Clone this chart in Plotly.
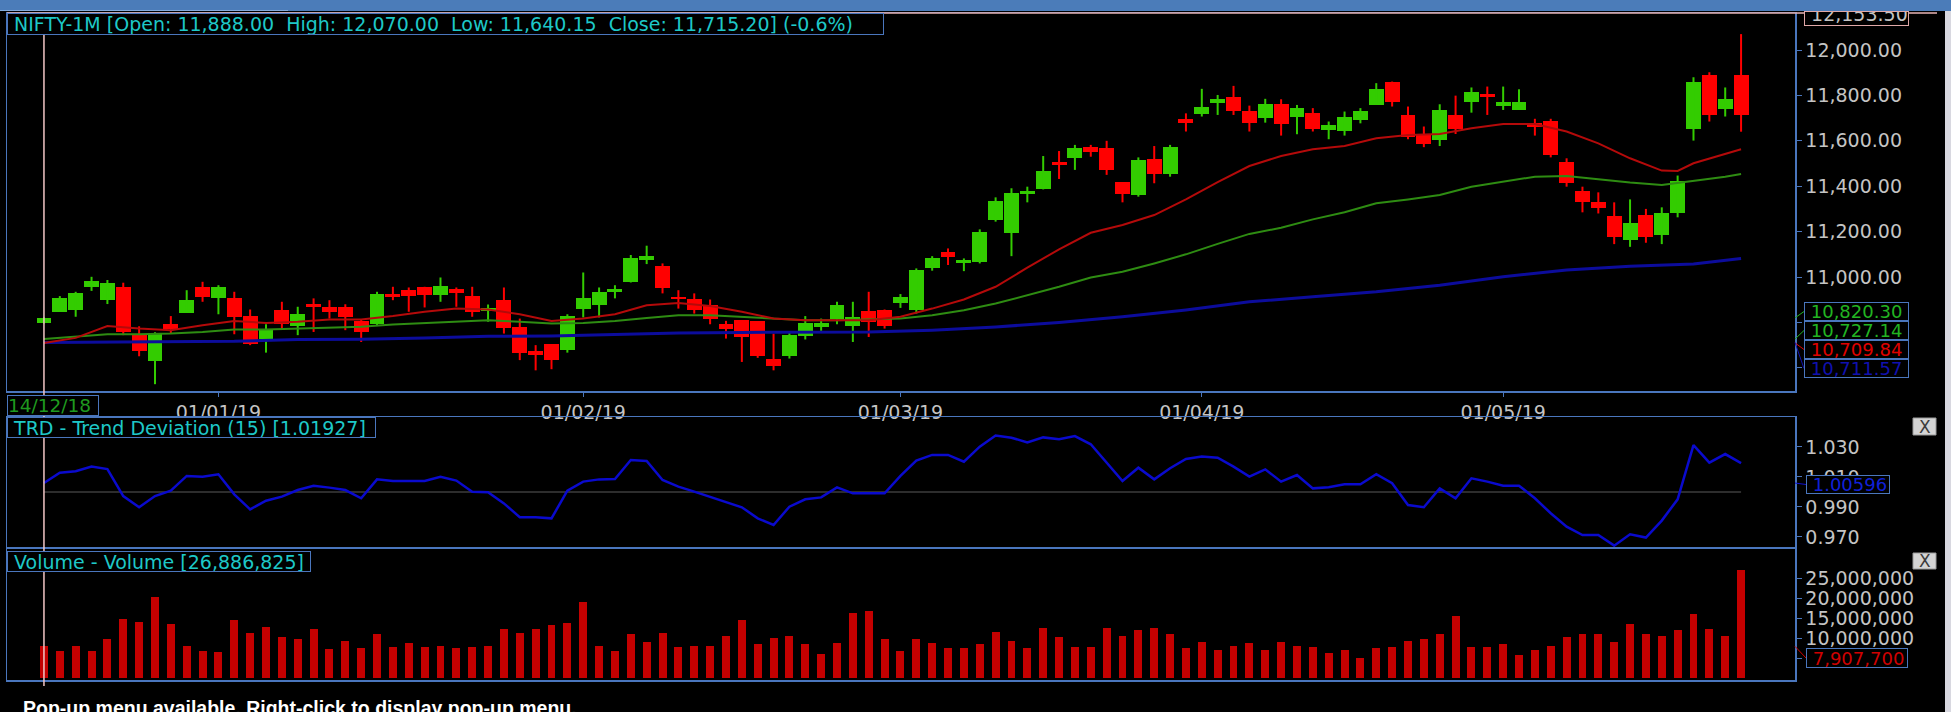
import plotly.graph_objects as go
from datetime import date

W, H = 1951, 712

# ---------------- data ----------------
DEC18 = [14, 17, 18, 19, 20, 21, 24, 26, 27, 28, 31]
JAN19 = [1, 2, 3, 4, 7, 8, 9, 10, 11, 14, 15, 16, 17, 18, 21, 22, 23, 24, 25, 28, 29, 30, 31]
FEB19 = [1, 4, 5, 6, 7, 8, 11, 12, 13, 14, 15, 18, 19, 20, 21, 22, 25, 26, 27, 28]
MAR19 = [1, 5, 6, 7, 8, 11, 12, 13, 14, 15, 18, 19, 20, 22, 25, 26, 27, 28, 29]
APR19 = [1, 2, 3, 4, 5, 8, 9, 10, 11, 12, 15, 16, 18, 22, 23, 24, 25, 26, 30]
MAY19 = [2, 3, 6, 7, 8, 9, 10, 13, 14, 15, 16, 17, 20, 21, 22, 23]
MONTHS = [(2018, 12, DEC18), (2019, 1, JAN19), (2019, 2, FEB19),
          (2019, 3, MAR19), (2019, 4, APR19), (2019, 5, MAY19)]
DATES = [date(y, m, d) for (y, m, days) in MONTHS for d in days]

OPEN = [10797, 10847, 10854, 10954, 10898, 10957, 10748, 10629, 10795, 10842,
        10957, 10906, 10908, 10828, 10729, 10857, 10784, 10883, 10869, 10869,
        10807, 10795, 10925, 10942, 10957, 10920, 10948, 10917, 10851, 10898,
        10778, 10673, 10704, 10678, 10860, 10876, 10932, 10976, 11075, 11048,
        10913, 10905, 10879, 10795, 10810, 10806, 10641, 10651, 10739, 10781,
        10813, 10785, 10851, 10857, 10886, 10854, 11042, 11110, 11064, 11067,
        11251, 11195, 11366, 11386, 11508, 11523, 11572, 11570, 11417, 11361,
        11520, 11454, 11695, 11719, 11766, 11791, 11733, 11702, 11763, 11707,
        11722, 11648, 11645, 11692, 11758, 11861, 11714, 11629, 11604, 11714,
        11773, 11807, 11755, 11736, 11677, 11689, 11508, 11380, 11329, 11269,
        11163, 11273, 11185, 11280, 11651, 11891, 11741, 11888.00]
HIGH = [10822, 10916, 10935, 11001, 10987, 10975, 10783, 10757, 10828, 10942,
        10979, 10964, 10935, 10857, 10792, 10891, 10869, 10906, 10898, 10880,
        10813, 10935, 10957, 10954, 10957, 10998, 10954, 10957, 10879, 10954,
        10817, 10700, 10704, 10836, 11020, 10954, 10964, 11097, 11138, 11060,
        10942, 10928, 10901, 10807, 10810, 10806, 10751, 10758, 10828, 10817,
        10891, 10891, 10935, 10857, 10925, 11038, 11092, 11126, 11082, 11210,
        11351, 11391, 11398, 11533, 11555, 11582, 11582, 11600, 11417, 11527,
        11577, 11582, 11721, 11829, 11802, 11842, 11755, 11785, 11783, 11758,
        11744, 11685, 11729, 11744, 11854, 11861, 11751, 11663, 11761, 11799,
        11835, 11839, 11839, 11827, 11697, 11697, 11523, 11398, 11373, 11329,
        11342, 11300, 11307, 11447, 11880, 11902, 11835, 12070.00]
LOW = [10795, 10847, 10825, 10939, 10881, 10744, 10651, 10528, 10751, 10842,
       10891, 10836, 10748, 10700, 10667, 10769, 10744, 10758, 10817, 10766,
       10714, 10784, 10898, 10847, 10866, 10891, 10869, 10825, 10803, 10751,
       10634, 10589, 10594, 10667, 10822, 10822, 10906, 10976, 11057, 10928,
       10861, 10839, 10792, 10729, 10626, 10644, 10589, 10641, 10725, 10763,
       10792, 10714, 10736, 10773, 10864, 10839, 11028, 11053, 11026, 11060,
       11244, 11092, 11329, 11386, 11432, 11472, 11530, 11450, 11329, 11354,
       11413, 11442, 11641, 11707, 11714, 11714, 11641, 11680, 11623, 11629,
       11641, 11607, 11623, 11677, 11758, 11751, 11607, 11572, 11577, 11630,
       11724, 11714, 11736, 11736, 11623, 11527, 11398, 11285, 11280, 11145,
       11133, 11151, 11145, 11263, 11601, 11685, 11707, 11640.15]
CLOSE = [10820.30, 10906, 10930, 10981, 10975, 10758, 10675, 10751, 10772, 10901,
         10910, 10957, 10822, 10707, 10772, 10792, 10839, 10869, 10847, 10822,
         10758, 10925, 10913, 10916, 10920, 10961, 10928, 10847, 10864, 10776,
         10667, 10656, 10634, 10828, 10909, 10935, 10947, 11086, 11092, 10950,
         10904, 10854, 10813, 10770, 10736, 10651, 10607, 10744, 10798, 10798,
         10879, 10825, 10803, 10785, 10913, 11031, 11082, 11089, 11075, 11200,
         11335, 11369, 11380, 11469, 11494, 11570, 11551, 11472, 11364, 11516,
         11454, 11572, 11677, 11751, 11783, 11732, 11680, 11763, 11675, 11744,
         11651, 11670, 11704, 11733, 11827, 11769, 11619, 11586, 11736, 11651,
         11817, 11792, 11769, 11769, 11660, 11538, 11413, 11332, 11302, 11175,
         11239, 11175, 11283, 11425, 11861, 11714, 11783, 11715.20]

# moving averages (candle index, value)
MA_RED_IDX = [0, 2, 4, 6, 8, 10, 12, 14, 16, 18, 20, 22, 24, 26, 28, 30, 32, 34, 36, 38,
              40, 42, 44, 46, 48, 50, 52, 54, 56, 58, 60, 62, 64, 66, 68, 70, 72, 74, 76, 78,
              80, 82, 84, 86, 88, 90, 92, 94, 96, 98, 100, 102, 103, 104, 106, 107]
MA_RED = [10709.84, 10732, 10784, 10773, 10766, 10788, 10806, 10798, 10803, 10813,
          10813, 10828, 10847, 10861, 10857, 10836, 10806, 10817, 10836, 10876,
          10886, 10872, 10847, 10817, 10810, 10810, 10810, 10825, 10861, 10901,
          10957, 11041, 11122, 11195, 11229, 11273, 11342, 11418, 11489, 11533,
          11563, 11577, 11611, 11626, 11630, 11655, 11674, 11674, 11641, 11589,
          11523, 11469, 11467, 11501, 11542, 11563]
MA_GREEN_IDX = [0, 2, 4, 6, 8, 10, 12, 14, 16, 18, 20, 22, 24, 26, 28, 30, 32, 34, 36, 38,
                40, 42, 44, 46, 48, 50, 52, 54, 56, 58, 60, 62, 64, 66, 68, 70, 72, 74, 76, 78,
                80, 82, 84, 86, 88, 90, 92, 94, 96, 98, 100, 102, 104, 106, 107]
MA_GREEN = [10727.14, 10737, 10748, 10748, 10751, 10758, 10769, 10769, 10773, 10778,
            10781, 10791, 10798, 10806, 10810, 10803, 10795, 10798, 10806, 10820,
            10832, 10832, 10825, 10817, 10810, 10810, 10813, 10817, 10832, 10854,
            10883, 10920, 10957, 10998, 11023, 11060, 11100, 11146, 11190, 11217,
            11254, 11285, 11325, 11342, 11361, 11398, 11420, 11442, 11445, 11430,
            11416, 11405, 11423, 11442, 11454]
MA_BLUE_IDX = [0, 4, 8, 12, 16, 20, 24, 28, 32, 36, 40, 44, 48, 52, 56, 60, 64, 68, 72,
               76, 80, 84, 88, 92, 96, 100, 104, 107]
MA_BLUE = [10711.57, 10714, 10714, 10717, 10725, 10726, 10732, 10739, 10740, 10748,
           10753, 10756, 10756, 10758, 10766, 10780, 10800, 10825, 10855, 10891,
           10913, 10935, 10964, 11001, 11031, 11048, 11057, 11082]

TRD = [1.00596, 1.0129, 1.0138, 1.0169, 1.0153, 0.9973, 0.9898, 0.9973, 1.0009, 1.0107,
       1.0102, 1.0118, 0.9984, 0.9884, 0.9942, 0.9969, 1.0013, 1.0042, 1.0029, 1.0013,
       0.9958, 1.0084, 1.0073, 1.0073, 1.0073, 1.0102, 1.0076, 1.0002, 0.9998, 0.9924,
       0.9831, 0.9831, 0.9824, 1.0009, 1.0069, 1.0084, 1.0087, 1.0213, 1.0207, 1.0080,
       1.0036, 1.0002, 0.9969, 0.9936, 0.9898, 0.9824, 0.9780, 0.9902, 0.9951, 0.9964,
       1.0031, 0.9991, 0.9991, 0.9991, 1.0107, 1.0209, 1.0247, 1.0247, 1.0202, 1.0302,
       1.0376, 1.0362, 1.0331, 1.0364, 1.0351, 1.0373, 1.0318, 1.0196, 1.0073, 1.0162,
       1.0084, 1.0158, 1.0220, 1.0236, 1.0229, 1.0169, 1.0102, 1.0151, 1.0069, 1.0113,
       1.0024, 1.0031, 1.0051, 1.0051, 1.0118, 1.0058, 0.9913, 0.9898, 1.0024, 0.9958,
       1.0091, 1.0069, 1.0042, 1.0042, 0.9958, 0.9858, 0.9769, 0.9713, 0.9713, 0.9642,
       0.9718, 0.9696, 0.9809, 0.9951, 1.0313, 1.0196, 1.0253, 1.01927]

VOLUME_M = [7.9077, 6.75, 8.08, 6.75, 9.67, 14.75, 14.08, 20.17, 13.5, 8.08,
            6.75, 6.42, 14.42, 11.25, 12.83, 10.25, 9.67, 12.17, 7.17, 9.33,
            7.42, 10.92, 7.75, 8.67, 7.75, 8.08, 7.42, 7.75, 8.08, 12.17,
            11.25, 12.17, 13.17, 13.83, 18.92, 8.08, 6.75, 10.92, 9.0, 11.25,
            7.75, 8.08, 8.08, 10.58, 14.42, 8.42, 9.92, 10.58, 8.42, 5.92,
            8.67, 16.33, 16.67, 9.67, 6.75, 9.67, 8.67, 7.42, 7.42, 8.42,
            11.58, 9.33, 7.42, 12.58, 10.33, 7.75, 7.75, 12.58, 10.58, 11.92,
            12.58, 10.92, 7.42, 9.0, 7.08, 8.08, 8.67, 7.08, 9.0, 8.08,
            7.75, 6.17, 7.08, 4.92, 7.42, 7.75, 9.33, 9.67, 10.92, 15.42,
            7.75, 7.75, 8.42, 5.83, 7.08, 8.08, 10.25, 10.92, 10.92, 9.0,
            13.5, 10.92, 10.58, 11.92, 16.0, 12.25, 10.58, 26.886825]

PRICE_TICKS = [10600, 10800, 11000, 11200, 11400, 11600, 11800, 12000]
TRD_TICKS = [0.97, 0.99, 1.01, 1.03]
VOL_TICKS = [5e6, 10e6, 15e6, 20e6, 25e6]

TITLE_MAIN = "NIFTY-1M [Open: 11,888.00&nbsp;&nbsp;High: 12,070.00&nbsp;&nbsp;Low: 11,640.15&nbsp;&nbsp;Close: 11,715.20] (-0.6%)"
TITLE_TRD = "TRD - Trend Deviation (15) [1.01927]"
TITLE_VOL = "Volume - Volume [26,886,825]"
CURSOR_DATE = "14/12/18"
CURSOR_PRICE = "12,153.50"
STATUS = "Pop-up menu available. Right-click to display pop-up menu."

# ---------------- geometry / styles ----------------
PLOT_L, PLOT_R = 7, 1795
MAIN_T, MAIN_B = 13, 391
TRD_T, TRD_B = 417, 547
VOL_T, VOL_B = 549, 680
X_RANGE = [-2.33, 110.40]
PRICE_RANGE = [10498, 12163]
TRD_RANGE = [0.9633, 1.05]
VOL_RANGE = [-0.5e6, 32.25e6]

BLUE_LINE = "#4a76bd"
CYAN = "#1ec8c8"
GRAY_TXT = "#c4c4c4"
UP = "#33cc00"
DOWN = "#ff0000"
FONT = "DejaVu Sans"
FS = 19


def PX(x):
    return x / W


def PY(y):
    return 1 - y / H


def val_py(v, rng, top, bot):
    return bot - (v - rng[0]) / (rng[1] - rng[0]) * (bot - top)


N = len(DATES)
IDX = list(range(N))
TICK_IDX, TICK_TEXT = [], []
for i in range(1, N):
    if DATES[i].month != DATES[i - 1].month:
        TICK_IDX.append(i)
        TICK_TEXT.append("01/%02d/%02d" % (DATES[i].month, DATES[i].year % 100))

fig = go.Figure()

# wicks
for col, cond in ((UP, True), (DOWN, False)):
    xs, ys = [], []
    for i in IDX:
        if (CLOSE[i] >= OPEN[i]) == cond:
            xs += [i, i, None]
            ys += [LOW[i], HIGH[i], None]
    fig.add_trace(go.Scatter(x=xs, y=ys, mode="lines", line=dict(color=col, width=2),
                             xaxis="x", yaxis="y", hoverinfo="skip"))
# bodies
for col, cond in ((UP, True), (DOWN, False)):
    xi = [i for i in IDX if (CLOSE[i] >= OPEN[i]) == cond]
    fig.add_trace(go.Bar(x=xi, y=[abs(CLOSE[i] - OPEN[i]) for i in xi],
                         base=[min(CLOSE[i], OPEN[i]) for i in xi],
                         width=0.94, marker=dict(color=col, line=dict(width=0)),
                         xaxis="x", yaxis="y", hoverinfo="skip"))
# moving averages
fig.add_trace(go.Scatter(x=MA_BLUE_IDX, y=MA_BLUE, mode="lines", line=dict(color="#0c0c9c", width=3),
                         xaxis="x", yaxis="y", hoverinfo="skip"))
fig.add_trace(go.Scatter(x=MA_GREEN_IDX, y=MA_GREEN, mode="lines", line=dict(color="#2e8c12", width=2),
                         xaxis="x", yaxis="y", hoverinfo="skip"))
fig.add_trace(go.Scatter(x=MA_RED_IDX, y=MA_RED, mode="lines", line=dict(color="#b40a0a", width=2),
                         xaxis="x", yaxis="y", hoverinfo="skip"))
# TRD
fig.add_trace(go.Scatter(x=IDX, y=TRD, mode="lines", line=dict(color="#0a0acd", width=2.5),
                         xaxis="x2", yaxis="y2", hoverinfo="skip"))
# Volume
fig.add_trace(go.Bar(x=IDX, y=[v * 1e6 for v in VOLUME_M], width=0.5,
                     marker=dict(color="#c40000", line=dict(width=0)),
                     xaxis="x3", yaxis="y3", hoverinfo="skip"))

axis_common = dict(showgrid=False, zeroline=False, showline=True, mirror=True,
                   linecolor=BLUE_LINE, linewidth=1.5)
tickfont = dict(family=FONT, size=FS, color=GRAY_TXT)
xdom = [PX(PLOT_L), PX(PLOT_R)]

layout = dict(
    width=W, height=H, margin=dict(l=0, r=0, t=0, b=0),
    paper_bgcolor="black", plot_bgcolor="black", showlegend=False, hovermode=False,
    bargap=0, barmode="overlay",
    xaxis=dict(domain=xdom, range=X_RANGE, anchor="y", tickvals=TICK_IDX, ticktext=TICK_TEXT,
               ticks="outside", ticklen=4, tickcolor=BLUE_LINE, tickfont=tickfont, **axis_common),
    yaxis=dict(domain=[PY(MAIN_B), PY(MAIN_T)], range=PRICE_RANGE, anchor="x", side="right",
               tickvals=PRICE_TICKS, tickformat=",.2f", ticks="outside", ticklen=5,
               tickcolor=BLUE_LINE, tickfont=tickfont, **axis_common),
    xaxis2=dict(domain=xdom, range=X_RANGE, anchor="y2", showticklabels=False, ticks="", **axis_common),
    yaxis2=dict(domain=[PY(TRD_B), PY(TRD_T)], range=TRD_RANGE, anchor="x2", side="right",
                tickvals=TRD_TICKS, tickformat=".3f", ticks="outside", ticklen=5,
                tickcolor=BLUE_LINE, tickfont=tickfont, **axis_common),
    xaxis3=dict(domain=xdom, range=X_RANGE, anchor="y3", showticklabels=False, ticks="", **axis_common),
    yaxis3=dict(domain=[PY(VOL_B), PY(VOL_T)], range=VOL_RANGE, anchor="x3", side="right",
                tickvals=VOL_TICKS, tickformat=",d", ticks="outside", ticklen=5,
                tickcolor=BLUE_LINE, tickfont=tickfont, **axis_common),
)
fig.update_layout(**layout)

shapes = []
# TRD baseline at 1.0
shapes.append(dict(type="line", xref="x2", yref="y2", x0=0, x1=N - 1, y0=1.0, y1=1.0,
                   line=dict(color="#3c3c3c", width=1.5), layer="below"))
# top blue bar & right strip
shapes.append(dict(type="rect", xref="paper", yref="paper", x0=0, x1=1, y0=PY(11), y1=1,
                   fillcolor="#4b7cb9", line=dict(width=0), layer="above"))
shapes.append(dict(type="line", xref="paper", yref="paper", x0=0, x1=PX(288), y0=PY(10.5), y1=PY(10.5),
                   line=dict(color="#82aadc", width=1), layer="above"))
shapes.append(dict(type="rect", xref="paper", yref="paper", x0=PX(1945), x1=1, y0=0, y1=PY(11),
                   fillcolor="#d8d8e0", line=dict(width=0), layer="above"))
# crosshair
cx = PLOT_L + (0 - X_RANGE[0]) / (X_RANGE[1] - X_RANGE[0]) * (PLOT_R - PLOT_L)
shapes.append(dict(type="line", xref="paper", yref="paper", x0=PX(cx), x1=PX(cx), y0=PY(686), y1=PY(13),
                   line=dict(color="#f2c6c6", width=1.5), layer="above"))
shapes.append(dict(type="line", xref="paper", yref="paper", x0=PX(PLOT_L), x1=PX(1937), y0=PY(13), y1=PY(13),
                   line=dict(color="#e8b4b4", width=1.5), layer="above"))
# leader lines to value boxes
BOX_X0, BOX_X1 = 1804, 1913
VALUE_BOXES = [(CLOSE[0], "{:,.2f}".format(CLOSE[0]), "#22b422", 311.5),
               (MA_GREEN[0], "{:,.2f}".format(MA_GREEN[0]), "#22b422", 330.5),
               (MA_RED[0], "{:,.2f}".format(MA_RED[0]), "#e00000", 349.5),
               (MA_BLUE[0], "{:,.2f}".format(MA_BLUE[0]), "#1010b0", 368.5)]
for v, txt, col, cy in VALUE_BOXES:
    vy = val_py(v, PRICE_RANGE, MAIN_T, MAIN_B)
    shapes.append(dict(type="line", xref="paper", yref="paper", x0=PX(PLOT_R), x1=PX(BOX_X0),
                       y0=PY(vy), y1=PY(cy), line=dict(color=col, width=1), layer="above"))
ty = val_py(TRD[0], TRD_RANGE, TRD_T, TRD_B)
shapes.append(dict(type="line", xref="paper", yref="paper", x0=PX(PLOT_R), x1=PX(1806),
                   y0=PY(ty), y1=PY(484.5), line=dict(color="#1010d0", width=1), layer="above"))
vy = val_py(VOLUME_M[0] * 1e6, VOL_RANGE, VOL_T, VOL_B)
shapes.append(dict(type="line", xref="paper", yref="paper", x0=PX(PLOT_R), x1=PX(1806),
                   y0=PY(vy), y1=PY(658), line=dict(color="#d00000", width=1), layer="above"))
# close buttons
for (y0, y1) in ((418, 435), (553, 569)):
    shapes.append(dict(type="rect", xref="paper", yref="paper", x0=PX(1913), x1=PX(1936),
                       y0=PY(y1), y1=PY(y0), fillcolor="#d4d4d4",
                       line=dict(color="#9a9a9a", width=1), layer="above"))
fig.update_layout(shapes=shapes)

ann = []


def box(text, x0, x1, y0, y1, color, border=BLUE_LINE, size=FS, valign="middle", pad_h=0):
    ann.append(dict(text=text, xref="paper", yref="paper", x=PX(x0), y=PY(y0),
                    xanchor="left", yanchor="top", showarrow=False, align="left", valign=valign,
                    width=x1 - x0 - 6, height=y1 - y0 - 2 + pad_h, borderpad=0, borderwidth=1,
                    bordercolor=border, bgcolor="black", xshift=0,
                    font=dict(family=FONT, size=size, color=color)))


box("&nbsp;" + TITLE_MAIN, 7, 888, 13, 33, CYAN, pad_h=2)
box(CURSOR_DATE, 7, 103, 395, 414, "#1f9a1f", size=18.5, pad_h=2)
box("&nbsp;" + TITLE_TRD, 7, 380, 417, 436, CYAN, pad_h=2)
box("&nbsp;" + TITLE_VOL, 7, 315, 551, 570, CYAN, pad_h=2)
box("&nbsp;" + CURSOR_PRICE, BOX_X0, BOX_X1, 11, 26, GRAY_TXT, border="#e0a8a8", valign="bottom")
for v, txt, col, cy in VALUE_BOXES:
    box("&nbsp;" + txt, BOX_X0, BOX_X1, cy - 9.5, cy + 9.5, col, size=18)
box("&nbsp;" + "{:.5f}".format(TRD[0]), 1806, 1894, 475, 494, "#1020d8", size=18)
box("&nbsp;" + "{:,d}".format(int(round(VOLUME_M[0] * 1e6))), 1806, 1912, 648, 668, "#d00000", size=18)
for (y0, y1) in ((418, 435), (553, 569)):
    ann.append(dict(text="X", xref="paper", yref="paper", x=PX(1924.5), y=PY((y0 + y1) / 2),
                    xanchor="center", yanchor="middle", showarrow=False,
                    font=dict(family=FONT, size=17, color="#3c3c3c")))
ann.append(dict(text=STATUS, xref="paper", yref="paper", x=PX(21), y=PY(695),
                xanchor="left", yanchor="top", showarrow=False,
                font=dict(family="Liberation Sans", size=19.5, color="white", weight="bold")))
fig.update_layout(annotations=ann)

fig.write_html("out.html", config={"displayModeBar": False, "staticPlot": True})
